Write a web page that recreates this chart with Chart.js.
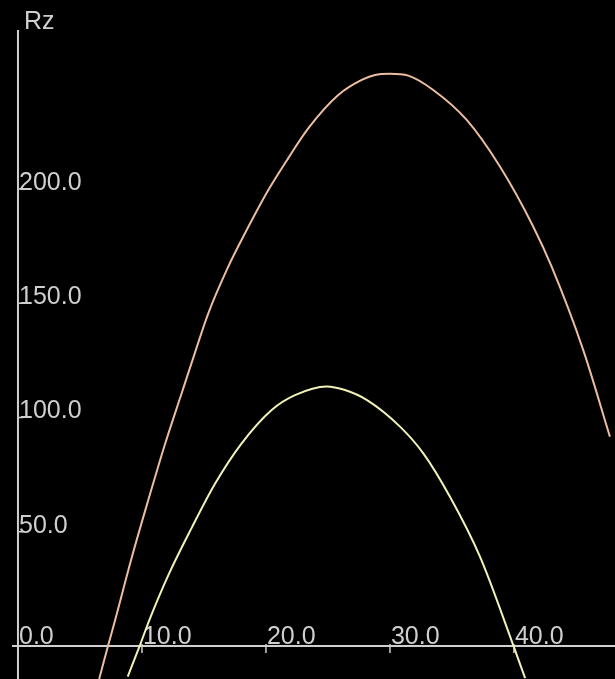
<!DOCTYPE html>
<html>
<head>
<meta charset="utf-8">
<script src="https://cdn.jsdelivr.net/npm/chart.js@4/dist/chart.umd.min.js"></script>
<style>
  html, body { margin: 0; padding: 0; background: #000; }
  #wrap { width: 615px; height: 679px; position: relative; }
</style>
</head>
<body>
<div id="wrap"><canvas id="rz"></canvas></div>
<script>
// ===== Rz curves =====
const orangeX = [6.55, 7.28, 7.82, 9.17, 10.51, 11.85, 13.20, 14.01, 15.35, 16.96, 18.31, 20.19, 21.80, 23.41, 25.83, 27.72, 28.79, 30.00, 31.48, 33.49, 36.19, 38.87, 41.56, 43.04, 45.59, 47.74];
const orangeY = [-14.4, 0.4, 11.0, 38.6, 63.9, 88.2, 110.6, 124.0, 145.6, 166.0, 180.6, 199.5, 213.5, 226.5, 241.1, 247.7, 249.9, 250.4, 249.6, 243.3, 230.2, 209.8, 183.5, 166.0, 129.5, 91.6];

const yellowX = [8.85, 9.84, 10.65, 12.12, 14.01, 15.89, 18.04, 20.46, 22.34, 24.90, 26.37, 28.12, 30.81, 32.69, 34.84, 37.26, 39.94, 40.90];
const yellowY = [-13.4, 0.4, 12.1, 30.9, 51.7, 71.0, 88.7, 103.3, 109.8, 113.6, 112.0, 107.7, 96.0, 84.3, 65.3, 39.1, 0.4, -14.1];

// tick values + labels
const xTicks = [0, 10, 20, 30, 40];
const xTickLabels = ["0.0", "10.0", "20.0", "30.0", "40.0"];
const yTicks = [50, 100, 150, 200];
const yTickLabels = ["50.0", "100.0", "150.0", "200.0"];
const yAxisTitle = "Rz";

const AXIS_COLOR = "#cfcfcf";
const FONT = "25px 'Liberation Sans', Arial, sans-serif";

// draws the axes at x=0 / y=0 using the chart's own scales
const axesPlugin = {
  id: "axes",
  beforeDatasetsDraw(chart) {
    const c = chart.ctx;
    const xs = chart.scales.x, ys = chart.scales.y;
    const x0 = xs.getPixelForValue(0);
    const y0 = ys.getPixelForValue(0);
    c.save();
    c.strokeStyle = AXIS_COLOR;
    c.lineWidth = 2;
    c.beginPath();
    // x axis
    c.moveTo(x0 - 6, y0);
    c.lineTo(chart.width, y0);
    // y axis
    c.moveTo(x0, 30);
    c.lineTo(x0, chart.height);
    c.stroke();

    // tick marks
    c.lineWidth = 1.5;
    c.beginPath();
    xTicks.forEach(v => {
      const px = xs.getPixelForValue(v);
      c.moveTo(px, y0 - 2);
      c.lineTo(px, y0 + 7);
    });
    yTicks.forEach(v => {
      const py = ys.getPixelForValue(v);
      c.moveTo(x0, py);
      c.lineTo(x0 + 5, py);
    });
    c.stroke();

    // labels
    c.fillStyle = AXIS_COLOR;
    c.font = FONT;
    c.textAlign = "left";
    c.textBaseline = "alphabetic";
    xTicks.forEach((v, i) => {
      c.fillText(xTickLabels[i], xs.getPixelForValue(v) + 1, y0 - 2);
    });
    yTicks.forEach((v, i) => {
      c.fillText(yTickLabels[i], x0 + 1, ys.getPixelForValue(v) + 1);
    });
    c.fillText(yAxisTitle, x0 + 6, 29);
    c.restore();
  }
};

new Chart(document.getElementById("rz"), {
  type: "line",
  data: {
    datasets: [
      {
        label: "orange",
        data: orangeX.map((x, i) => ({ x: x, y: orangeY[i] })),
        borderColor: "#ecbea0",
        borderWidth: 2,
        pointRadius: 0,
        cubicInterpolationMode: "monotone",
        fill: false
      },
      {
        label: "yellow",
        data: yellowX.map((x, i) => ({ x: x, y: yellowY[i] })),
        borderColor: "#f2f2b8",
        borderWidth: 2,
        pointRadius: 0,
        cubicInterpolationMode: "monotone",
        fill: false
      }
    ]
  },
  options: {
    responsive: true,
    maintainAspectRatio: false,
    animation: false,
    layout: { padding: 0 },
    scales: {
      x: { type: "linear", min: -1.45, max: 48.15, display: false },
      y: { type: "linear", min: -14.45, max: 282.7, display: false }
    },
    plugins: {
      legend: { display: false },
      tooltip: { enabled: false }
    }
  },
  plugins: [axesPlugin]
});
</script>
</body>
</html>
